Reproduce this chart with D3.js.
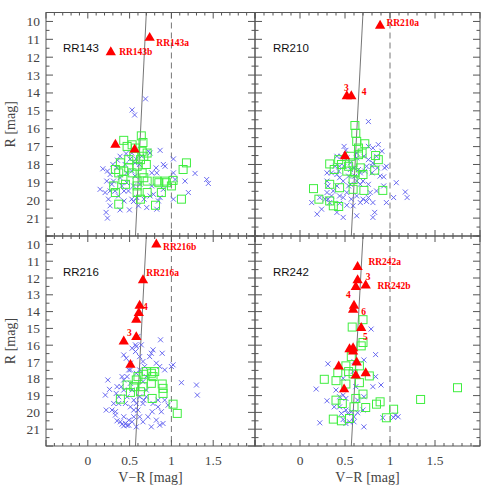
<!DOCTYPE html>
<html>
<head>
<meta charset="utf-8">
<script src="https://cdn.jsdelivr.net/npm/d3@7"></script>
<style>
body { margin:0; background:#fff; }
</style>
</head>
<body>
<div id="chart"></div>
<script>
// tick labels
var xTicks = [0, 0.5, 1, 1.5];
var yTicks = [10, 11, 12, 13, 14, 15, 16, 17, 18, 19, 20, 21];

// ridge line and colour cut (V-R, R)
var ridge = [[0.57, 22], [0.70, 9.5]];
var colourCut = 1;

// RR143
var tri143 = [[0.74,10.92],[0.275,11.72],[0.33,16.9],[0.56,17.17]];
var lab143 = [['RR143a',0.82,11.35],['RR143b',0.375,11.9]];
var square143 = [[0.43,16.65],[0.64,16.4],[0.53,16.9],[0.66,16.77],[0.57,17.08],[0.47,16.99],[0.33,18.28],[0.39,17.91],
	[0.37,18.47],[0.43,18.37],[0.49,18.19],[0.53,18.47],[0.59,18.1],[0.63,17.73],[0.67,17.54],[0.70,18.0],[0.65,18.47],
	[0.67,18.74],[0.71,18.93],[0.59,18.93],[0.59,19.2],[0.59,19.57],[0.71,19.57],[0.63,19.94],[0.45,19.11],[0.42,18.84],
	[0.33,19.57],[0.31,19.2],[0.37,20.22],[0.85,19.02],[0.94,19.02],[0.88,19.57],[1.02,18.89],[1.0,19.2],[1.14,18.28],
	[1.18,17.91],[1.12,19.94],[0.81,20.28],[0.92,18.93],[0.83,18.93],[0.71,17.36],[0.65,17.26],[0.55,17.54],[0.49,17.73]];
var cross143 = [[0.69,14.33],[0.53,14.95],[0.56,15.23],[0.18,18.24],[0.235,18.37],[0.30,18.0],[0.355,17.76],[0.386,17.54],
	[0.458,17.39],[0.506,17.69],[0.725,17.26],[0.745,17.36],[0.865,17.21],[0.904,18.0],[0.924,18.1],[1.024,17.69],
	[1.024,18.47],[0.825,18.47],[1.044,18.84],[1.163,18.93],[1.283,18.5],[1.422,18.84],[1.442,19.06],[1.203,19.57],
	[1.024,19.94],[0.845,20.04],[0.825,20.5],[0.705,20.41],[0.606,20.31],[0.546,20.07],[0.498,20.54],[0.386,20.54],
	[0.267,20.31],[0.235,21.0],[0.219,20.68],[0.247,19.94],[0.147,19.39],[0.207,19.57],[0.267,19.48],[0.327,19.48],
	[0.434,19.48],[0.486,19.48],[0.546,19.2],[0.625,19.11],[0.785,19.67],[0.865,19.85],[0.765,19.2],[0.904,19.39],
	[0.307,18.93],[0.386,18.74],[0.466,18.47],[0.526,18.37],[0.566,18.65],[0.466,19.02],[0.406,19.2],[0.347,18.19],
	[0.446,18.0],[0.566,17.91],[0.765,18.47],[0.817,18.19],[0.267,18.56],[0.227,18.93],[0.287,19.11],[0.367,19.76],
	[0.434,20.04],[0.526,19.94],[0.586,19.85],[0.673,19.94],[0.745,19.76],[0.578,17.69],[0.645,17.54],[0.618,18.0],[0.526,17.36]];

// RR210
var tri210 = [[0.89,10.24],[0.52,14.18],[0.57,14.18],[0.50,17.54]];
var lab210 = [['RR210a',0.96,10.24],['3',0.49,13.9],['4',0.685,14.12]];
var square210 = [[0.61,15.82],[0.62,16.25],[0.63,16.71],[0.72,16.84],[0.65,17.08],[0.69,17.36],[0.84,17.5],[0.87,17.73],
	[0.43,17.73],[0.33,17.97],[0.38,18.28],[0.46,18.0],[0.54,18.1],[0.59,17.91],[0.67,18.19],[0.83,18.32],[0.52,18.37],
	[0.61,18.47],[0.70,18.56],[0.59,18.84],[0.33,19.11],[0.44,19.3],[0.59,19.39],[0.71,19.45],[0.92,19.45],[0.15,19.35],
	[0.21,19.94],[0.33,20.04],[0.37,20.31],[0.43,20.35],[0.65,17.45],[0.56,17.54]];
var cross210 = [[0.76,15.60],[0.49,16.99],[0.51,17.21],[0.76,16.99],[0.81,17.08],[0.87,16.89],[0.96,18.10],[0.91,17.26],
	[0.41,17.54],[0.35,18.47],[0.30,18.47],[0.30,18.93],[0.44,18.74],[0.48,18.93],[0.41,19.20],[0.37,19.48],[0.30,19.57],
	[0.31,19.94],[0.44,19.76],[0.52,19.57],[0.57,19.94],[0.63,19.76],[0.70,19.94],[0.78,19.57],[0.85,19.48],[0.93,19.20],
	[0.89,18.65],[0.93,18.69],[0.80,18.47],[0.74,18.10],[0.81,17.91],[0.85,17.54],[0.71,17.54],[0.76,17.73],[0.63,17.36],
	[0.52,17.63],[0.49,18.10],[0.56,18.28],[0.65,18.28],[0.70,18.93],[0.67,19.11],[0.76,19.11],[0.56,19.11],[0.44,18.10],
	[0.39,18.10],[0.63,18.93],[0.81,20.13],[0.74,20.07],[0.67,20.13],[0.59,20.31],[0.52,20.28],[0.44,20.17],[0.33,20.13],
	[0.24,20.50],[0.19,20.78],[0.13,20.13],[0.41,20.68],[0.48,20.96],[0.63,20.87],[0.81,20.96],[0.83,20.68],[0.96,20.13],
	[1.04,19.85],[1.07,19.02],[1.17,19.54],[1.19,19.85],[0.54,18.65],[0.61,18.65],[0.72,18.37],[0.80,18.10],[0.86,18.19],
	[0.94,18.19],[0.41,18.56],[0.31,19.20],[0.35,19.76],[0.22,19.85],[0.28,19.94],[0.48,19.85],[0.54,19.20],[0.76,19.85],
	[0.63,17.63],[0.56,17.91],[0.43,18.37],[0.46,17.54],[0.67,18.47],[0.60,18.19]];

// RR216
var tri216 = [[0.82,10.0],[0.66,12.13],[0.62,13.65],[0.61,14.09],[0.58,14.48],[0.58,15.52],[0.43,15.78],[0.51,17.17]];
var lab216 = [['RR216b',0.90,10.34],['RR216a',0.70,11.89],['4',0.66,13.89],['3',0.47,15.44]];
var square216 = [[0.39,19.21],[0.47,18.37],[0.51,18.81],[0.60,17.87],[0.63,18.77],[0.66,18.47],[0.67,17.73],[0.70,17.57],
	[0.76,17.67],[0.78,17.87],[0.80,17.57],[0.76,18.27],[0.77,19.17],[0.89,18.31],[0.90,18.57],[0.90,18.87],[1.02,19.51],
	[1.07,20.06],[0.58,18.07],[0.55,18.47]];
var cross216 = [[0.24,18.07],[0.26,18.63],[0.21,18.97],[0.22,19.86],[0.33,19.96],[0.31,19.47],[0.37,19.07],[0.43,18.07],
	[0.47,17.87],[0.49,17.47],[0.51,17.07],[0.57,16.38],[0.58,16.08],[0.62,16.68],[0.66,16.97],[0.74,16.68],[0.76,16.48],
	[0.78,16.28],[0.87,15.68],[0.89,16.48],[0.92,17.47],[1.00,17.27],[1.02,17.17],[1.12,18.23],[1.30,18.37],[1.31,18.97],
	[0.53,18.67],[0.47,19.07],[0.45,19.47],[0.51,19.67],[0.55,19.27],[0.58,19.47],[0.60,19.86],[0.66,19.47],[0.70,19.07],
	[0.78,19.47],[0.84,19.67],[0.88,19.96],[0.82,20.46],[0.90,20.66],[0.72,20.26],[0.62,20.26],[0.55,20.26],[0.49,20.46],
	[0.43,20.26],[0.45,20.66],[0.49,20.76],[0.43,20.8],[0.39,20.56],[0.33,20.16],[0.29,19.86],[0.37,19.47],[0.55,19.86],
	[0.62,19.07],[0.67,19.27],[0.77,19.96],[0.84,19.27],[0.92,19.27],[0.96,19.57],[0.70,18.67],[0.66,18.17],[0.51,18.27],
	[0.43,18.67],[0.35,18.47],[0.41,17.87],[0.46,16.78],[0.43,16.58],[0.53,16.18],[0.57,15.98],[0.64,15.98],[0.62,17.47],
	[0.68,17.27],[0.82,17.07],[0.86,17.27],[0.70,17.87],[0.58,17.67],[0.51,17.47],[0.40,18.47],[0.34,18.87],[0.53,20.56],
	[0.58,20.86],[0.66,20.56],[0.76,20.86],[0.86,20.76],[0.47,20.78],[0.41,20.7],[0.35,20.5],[0.60,15.48]];

// RR242
var tri242 = [[0.64,11.34],[0.64,12.13],[0.73,12.45],[0.62,12.53],[0.60,13.65],[0.59,13.89],[0.68,14.98],[0.55,16.24],
	[0.59,16.18],[0.59,16.38],[0.63,17.03],[0.43,17.27],[0.62,17.81],[0.73,17.67],[0.49,18.63]];
var lab242 = [['RR242a',0.76,11.2],['3',0.73,12.09],['RR242b',0.86,12.63],['4',0.51,13.19],['6',0.68,14.19],['5',0.70,15.68]];
var square242 = [[0.70,14.48],[0.58,14.92],[0.68,16.04],[0.70,15.84],[0.57,16.68],[0.51,17.23],[0.66,17.23],[0.54,17.57],
	[0.42,17.63],[0.40,18.11],[0.27,18.03],[0.59,17.71],[0.77,17.83],[0.66,18.23],[0.51,18.31],[0.70,18.91],[0.62,19.17],
	[0.40,19.27],[0.47,19.47],[0.60,19.67],[0.73,19.71],[0.85,19.51],[0.89,19.37],[1.04,19.81],[0.96,20.32],[0.37,20.40],
	[0.46,20.50],[1.34,19.23],[1.75,18.53],[0.55,20.36]];
var cross242 = [[0.79,15.04],[0.31,17.11],[0.84,16.56],[0.71,16.88],[0.18,18.61],[0.30,19.31],[0.22,20.62],[0.84,17.87],
	[0.90,18.37],[0.81,18.47],[0.40,18.67],[0.44,19.07],[0.48,18.97],[0.51,19.86],[0.53,20.06],[0.57,19.96],[0.60,20.26],
	[0.55,20.56],[0.48,20.42],[0.44,19.67],[0.51,19.17],[0.64,19.27],[0.71,19.07],[0.64,20.02],[0.70,19.86],[0.48,17.97],
	[0.62,18.47],[0.59,17.57],[0.60,16.98],[0.71,20.86],[0.92,20.32],[1.04,20.30],[1.09,20.26],[1.06,20.16],[0.60,20.56],
	[0.51,20.66],[0.38,19.67],[0.46,20.06]];

// panel layout
var W = 491, H = 491;
var panels = [
	{name:'RR143', tri:tri143, lab:lab143, sq:square143, cr:cross143, x:[46,255], y:[12.5,236], left:true, bottom:false},
	{name:'RR210', tri:tri210, lab:lab210, sq:square210, cr:cross210, x:[255,480], y:[12.5,236], left:false, bottom:false},
	{name:'RR216', tri:tri216, lab:lab216, sq:square216, cr:cross216, x:[46,255], y:[236,446], left:true, bottom:true},
	{name:'RR242', tri:tri242, lab:lab242, sq:square242, cr:cross242, x:[255,480], y:[236,446], left:false, bottom:true}
];

var svg = d3.select('#chart')
	.append('svg')
	.attr('width', W)
	.attr('height', H);

var frameCol = '#555';
var red = '#ff0000';
var green = '#40ee40';
var blue = '#5a5aee';
var serif = '"Liberation Serif", "DejaVu Serif", serif';

panels.forEach(function (p, i) {
	var x = d3.scaleLinear().domain([-0.5, 2]).range(p.x);
	var y = d3.scaleLinear().domain([9.5, 22]).range(p.y);
	var g = svg.append('g');

	g.append('clipPath').attr('id', 'clip' + i)
		.append('rect')
		.attr('x', p.x[0]).attr('y', p.y[0])
		.attr('width', p.x[1] - p.x[0]).attr('height', p.y[1] - p.y[0]);

	var inner = g.append('g').attr('clip-path', 'url(#clip' + i + ')');

	// dashed colour cut
	inner.append('line')
		.attr('x1', x(colourCut)).attr('x2', x(colourCut))
		.attr('y1', p.y[0]).attr('y2', p.y[1])
		.style('stroke', '#777')
		.style('stroke-width', 1)
		.style('stroke-dasharray', '6,4');
	// ridge line
	inner.append('line')
		.attr('x1', x(ridge[0][0])).attr('y1', y(ridge[0][1]))
		.attr('x2', x(ridge[1][0])).attr('y2', y(ridge[1][1]))
		.style('stroke', '#666')
		.style('stroke-width', 0.9);

	// blue crosses
	inner.append('g')
		.selectAll('path')
		.data(p.cr)
		.enter()
		.append('path')
		.attr('d', 'M-2.5,-2.5L2.5,2.5M-2.5,2.5L2.5,-2.5')
		.attr('transform', d => 'translate(' + x(d[0]) + ',' + y(d[1]) + ')')
		.style('stroke', blue)
		.style('stroke-width', 0.9)
		.style('fill', 'none');

	// green squares
	inner.append('g')
		.selectAll('rect')
		.data(p.sq)
		.enter()
		.append('rect')
		.attr('x', d => x(d[0]) - 4)
		.attr('y', d => y(d[1]) - 4)
		.attr('width', 8)
		.attr('height', 8)
		.style('fill', 'none')
		.style('stroke', green)
		.style('stroke-width', 1);

	// red triangles
	inner.append('g')
		.selectAll('path')
		.data(p.tri)
		.enter()
		.append('path')
		.attr('d', d3.symbol(d3.symbolTriangle).size(46))
		.attr('transform', d => 'translate(' + x(d[0]) + ',' + y(d[1]) + ')')
		.style('fill', red);

	// red labels
	g.append('g')
		.selectAll('text')
		.data(p.lab)
		.enter()
		.append('text')
		.attr('x', d => x(d[1]))
		.attr('y', d => y(d[2]))
		.text(d => d[0])
		.style('font-family', serif)
		.style('font-weight', 'bold')
		.style('font-size', '9.5px')
		.style('fill', red);

	// panel name
	g.append('text')
		.attr('x', p.x[0] + (p.left ? 17 : 18))
		.attr('y', p.y[0] + 39.5)
		.text(p.name)
		.style('font-family', '"Liberation Sans", Arial, sans-serif')
		.style('font-size', '11.5px')
		.style('fill', '#111');

	// ticks on all four sides
	var xt = d3.range(-0.5, 2.001, 0.1);
	var yt = d3.range(9.5, 22.001, 0.5);
	var ticks = g.append('g').style('stroke', frameCol).style('stroke-width', 1);
	xt.forEach(function (v) {
		var major = Math.abs(v * 2 - Math.round(v * 2)) < 1e-6;
		var len = major ? 6 : 3;
		ticks.append('line').attr('x1', x(v)).attr('x2', x(v)).attr('y1', p.y[1]).attr('y2', p.y[1] - len);
		ticks.append('line').attr('x1', x(v)).attr('x2', x(v)).attr('y1', p.y[0]).attr('y2', p.y[0] + len);
	});
	yt.forEach(function (v) {
		var major = Math.abs(v - Math.round(v)) < 1e-6;
		var len = major ? 7 : 3.5;
		ticks.append('line').attr('y1', y(v)).attr('y2', y(v)).attr('x1', p.x[0]).attr('x2', p.x[0] + len);
		ticks.append('line').attr('y1', y(v)).attr('y2', y(v)).attr('x1', p.x[1]).attr('x2', p.x[1] - len);
	});

	// frame
	g.append('rect')
		.attr('x', p.x[0]).attr('y', p.y[0])
		.attr('width', p.x[1] - p.x[0]).attr('height', p.y[1] - p.y[0])
		.style('fill', 'none')
		.style('stroke', frameCol)
		.style('stroke-width', 1);

	// y tick labels
	if (p.left) {
		g.append('g')
			.selectAll('text')
			.data(yTicks)
			.enter()
			.append('text')
			.attr('x', p.x[0] - 6)
			.attr('y', d => y(d) + 4.5)
			.attr('text-anchor', 'end')
			.text(d => d)
			.style('font-family', serif)
			.style('font-size', '13.5px')
			.style('fill', '#444');
		g.append('text')
			.attr('transform', 'translate(15,' + ((p.y[0] + p.y[1]) / 2) + ') rotate(-90)')
			.attr('text-anchor', 'middle')
			.text('R [mag]')
			.style('font-family', serif)
			.style('font-size', '14px')
			.style('fill', '#444');
	}
	// x tick labels
	if (p.bottom) {
		g.append('g')
			.selectAll('text')
			.data(xTicks)
			.enter()
			.append('text')
			.attr('x', d => x(d))
			.attr('y', p.y[1] + 19)
			.attr('text-anchor', 'middle')
			.text(d => d)
			.style('font-family', serif)
			.style('font-size', '13.5px')
			.style('fill', '#444');
		g.append('text')
			.attr('x', (p.x[0] + p.x[1]) / 2)
			.attr('y', p.y[1] + 36)
			.attr('text-anchor', 'middle')
			.text('V\u2212R [mag]')
			.style('font-family', serif)
			.style('font-size', '14px')
			.style('fill', '#444');
	}
});
</script>
</body>
</html>
